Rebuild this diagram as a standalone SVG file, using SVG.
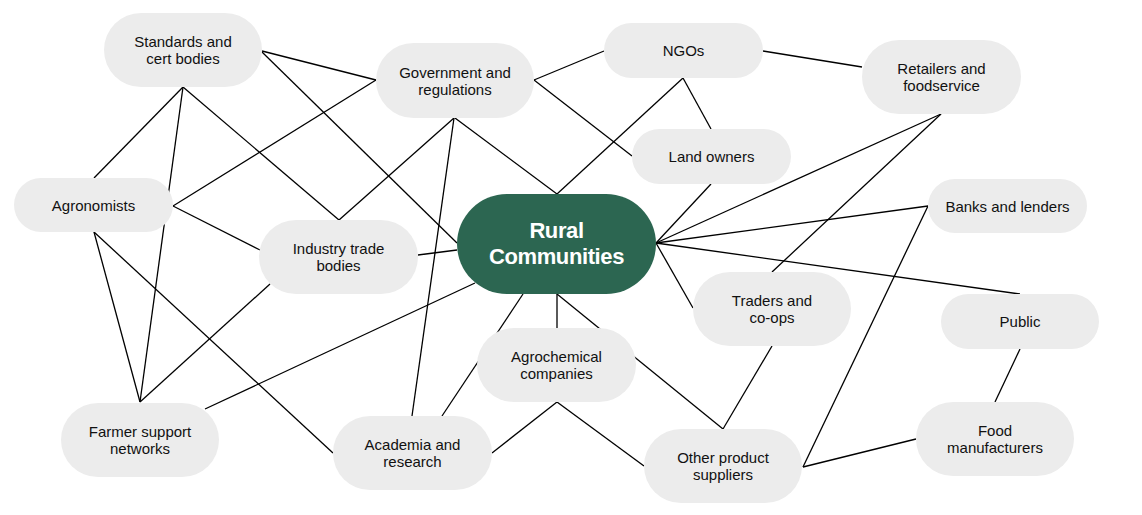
<svg xmlns="http://www.w3.org/2000/svg" width="1142" height="515" viewBox="0 0 1142 515">
<style>
.n{fill:#ececec}
.c{fill:#2c6651}
.t{font-family:"Liberation Sans",Arial,sans-serif;font-size:15px;fill:#111;text-anchor:middle}
.tc{font-family:"Liberation Sans",Arial,sans-serif;font-size:22px;font-weight:bold;fill:#fff;text-anchor:middle;letter-spacing:-0.4px}
#connectors line{stroke:#000;stroke-width:1.3;fill:none}
</style>
<rect width="1142" height="515" fill="#fff"/>
<g id="connectors">
<line x1="262" y1="51" x2="376" y2="80"/>
<line x1="262" y1="52" x2="457" y2="243"/>
<line x1="183" y1="87" x2="94" y2="178"/>
<line x1="183" y1="87" x2="140" y2="402"/>
<line x1="183" y1="87" x2="339" y2="220"/>
<line x1="376" y1="80" x2="173" y2="206"/>
<line x1="454" y1="118" x2="339" y2="220"/>
<line x1="454" y1="118" x2="412" y2="416"/>
<line x1="455" y1="118" x2="557" y2="194"/>
<line x1="534" y1="80" x2="604" y2="51"/>
<line x1="534" y1="80" x2="632" y2="156"/>
<line x1="683" y1="78" x2="557" y2="194"/>
<line x1="683" y1="78" x2="711" y2="129"/>
<line x1="763" y1="51" x2="862" y2="67"/>
<line x1="711" y1="184" x2="656" y2="243"/>
<line x1="941" y1="114" x2="656" y2="243"/>
<line x1="941" y1="114" x2="772" y2="272"/>
<line x1="928" y1="206" x2="656" y2="243"/>
<line x1="928" y1="206" x2="803" y2="467"/>
<line x1="656" y1="243" x2="1020" y2="294"/>
<line x1="656" y1="243" x2="693" y2="308"/>
<line x1="772" y1="346" x2="723" y2="429"/>
<line x1="557" y1="402" x2="644" y2="466"/>
<line x1="557" y1="402" x2="492" y2="453"/>
<line x1="557" y1="294" x2="723" y2="429"/>
<line x1="557" y1="294" x2="557" y2="328"/>
<line x1="523" y1="294" x2="442" y2="416"/>
<line x1="475" y1="283" x2="205" y2="409"/>
<line x1="418" y1="255" x2="457" y2="250"/>
<line x1="270" y1="284" x2="140" y2="402"/>
<line x1="173" y1="206" x2="260" y2="250"/>
<line x1="94" y1="232" x2="140" y2="402"/>
<line x1="94" y1="232" x2="333" y2="453"/>
<line x1="916" y1="439" x2="803" y2="467"/>
<line x1="1020" y1="349" x2="995" y2="402"/>
</g>
<g id="standards"><rect class="n" x="104" y="13" width="158" height="74" rx="37"/><text class="t" x="183" y="47">Standards and</text><text class="t" x="183" y="64">cert bodies</text></g>
<g id="government"><rect class="n" x="376" y="43" width="158" height="75" rx="37.5"/><text class="t" x="455" y="77.5">Government and</text><text class="t" x="455" y="94.5">regulations</text></g>
<g id="ngos"><rect class="n" x="604" y="23" width="159" height="55" rx="27.5"/><text class="t" x="683.5" y="56">NGOs</text></g>
<g id="retailers"><rect class="n" x="862" y="40" width="159" height="74" rx="37"/><text class="t" x="941.5" y="74">Retailers and</text><text class="t" x="941.5" y="91">foodservice</text></g>
<g id="agronomists"><rect class="n" x="14" y="178" width="159" height="54" rx="27"/><text class="t" x="93.5" y="210.5">Agronomists</text></g>
<g id="landowners"><rect class="n" x="632" y="129" width="159" height="55" rx="27.5"/><text class="t" x="711.5" y="162">Land owners</text></g>
<g id="industry"><rect class="n" x="259" y="220" width="159" height="74" rx="37"/><text class="t" x="338.5" y="254">Industry trade</text><text class="t" x="338.5" y="271">bodies</text></g>
<g id="rural"><rect class="c" x="457" y="194" width="199" height="100" rx="50"/><text class="tc" x="556.5" y="238">Rural</text><text class="tc" x="556.5" y="264">Communities</text></g>
<g id="banks"><rect class="n" x="928" y="179" width="159" height="54" rx="27"/><text class="t" x="1007.5" y="211.5">Banks and lenders</text></g>
<g id="traders"><rect class="n" x="693" y="272" width="158" height="74" rx="37"/><text class="t" x="772" y="306">Traders and</text><text class="t" x="772" y="323">co-ops</text></g>
<g id="public"><rect class="n" x="941" y="294" width="158" height="55" rx="27.5"/><text class="t" x="1020" y="327">Public</text></g>
<g id="agrochemical"><rect class="n" x="477" y="328" width="159" height="74" rx="37"/><text class="t" x="556.5" y="362">Agrochemical</text><text class="t" x="556.5" y="379">companies</text></g>
<g id="farmer"><rect class="n" x="61" y="403" width="158" height="74" rx="37"/><text class="t" x="140" y="437">Farmer support</text><text class="t" x="140" y="454">networks</text></g>
<g id="academia"><rect class="n" x="333" y="416" width="159" height="74" rx="37"/><text class="t" x="412.5" y="450">Academia and</text><text class="t" x="412.5" y="467">research</text></g>
<g id="other"><rect class="n" x="644" y="429" width="158" height="74" rx="37"/><text class="t" x="723" y="463">Other product</text><text class="t" x="723" y="480">suppliers</text></g>
<g id="food"><rect class="n" x="916" y="402" width="158" height="74" rx="37"/><text class="t" x="995" y="436">Food</text><text class="t" x="995" y="453">manufacturers</text></g>
</svg>
